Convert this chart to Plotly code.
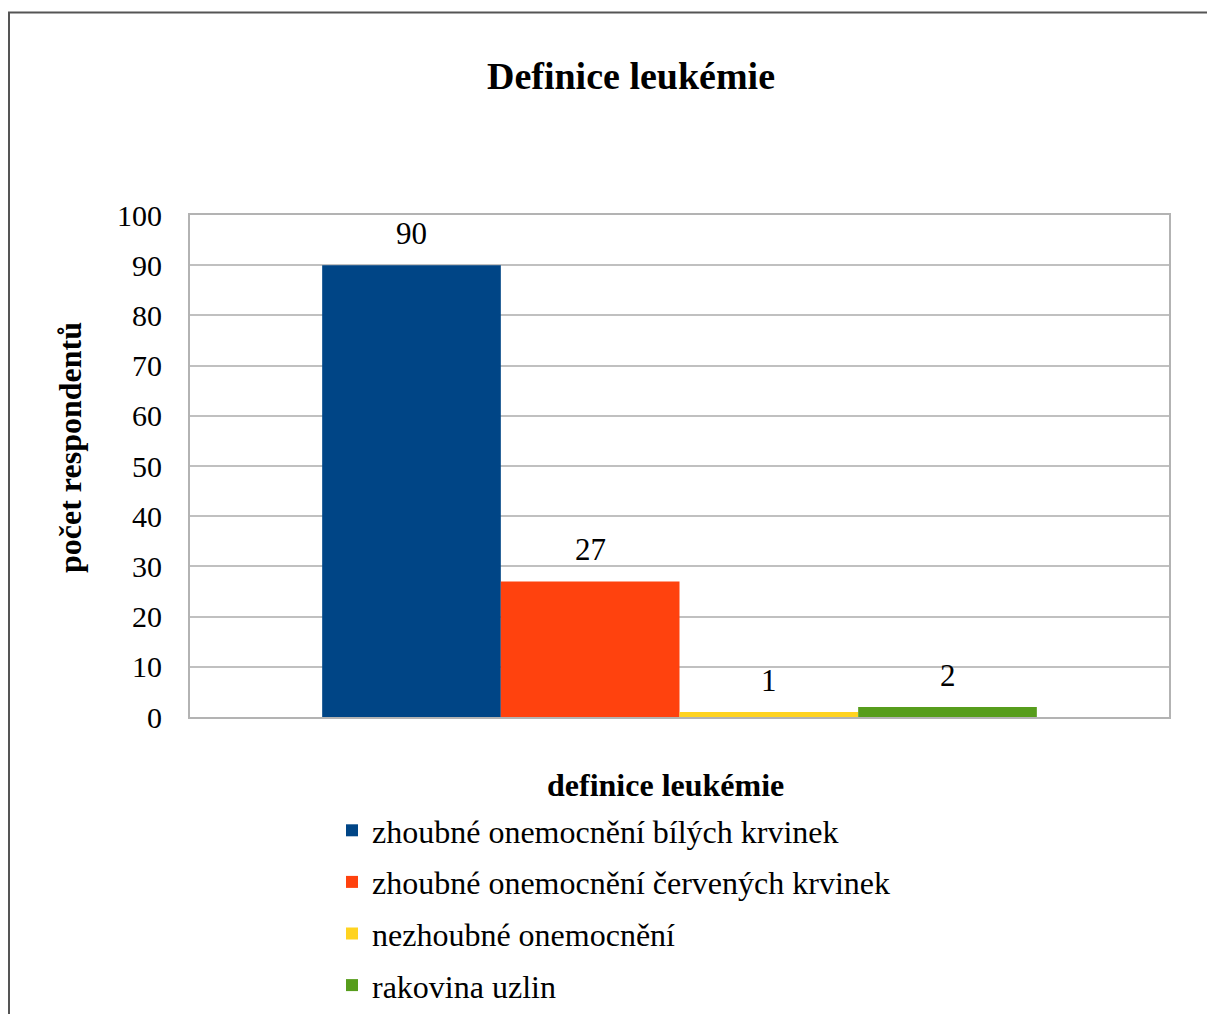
import plotly.graph_objects as go

series_names = [
    "zhoubné onemocnění bílých krvinek",
    "zhoubné onemocnění červených krvinek",
    "nezhoubné onemocnění",
    "rakovina uzlin",
]
values = [90, 27, 1, 2]
colors = ["#004586", "#ff420e", "#ffd320", "#579d1c"]
category = [0]

FONT = "Liberation Serif, Times New Roman, serif"
W, H = 1207, 1014
L, R, T, B = 190, 38, 215, 297
pw, ph = W - L - R, H - T - B

bargap = 0.27
fig = go.Figure()
for i, (name, v, c) in enumerate(zip(series_names, values, colors)):
    fig.add_trace(go.Bar(x=category, y=[v], name=name, legendgroup=f"g{i}",
                         marker=dict(color=c, line=dict(width=0))))

n = len(values)
w = (1 - bargap) / n
for i, v in enumerate(values):
    xc = -0.5 * (1 - bargap) + w * (i + 0.5)
    fig.add_annotation(x=xc, y=v, xref="x", yref="y", text=str(v), showarrow=False,
                       yanchor="bottom", yshift=12, font=dict(family=FONT, size=31, color="#000"))

def px2x(px):
    return (px - L) / pw

def py2y(py):
    return (H - B - py) / ph

# outer chart border
fig.add_shape(type="rect", xref="paper", yref="paper",
              x0=px2x(9), x1=px2x(1240), y0=py2y(1040), y1=py2y(12.5),
              line=dict(color="#555555", width=2), fillcolor="rgba(0,0,0,0)", layer="below")

fig.add_annotation(x=px2x(70), y=py2y(448), xref="paper", yref="paper", text="<b>počet respondentů</b>",
                   textangle=-90, showarrow=False, xanchor="center", yanchor="middle",
                   font=dict(family=FONT, size=32, color="#000"))
fig.add_annotation(x=px2x(665), y=py2y(785), xref="paper", yref="paper", text="<b>definice leukémie</b>",
                   showarrow=False, xanchor="center", yanchor="middle",
                   font=dict(family=FONT, size=32, color="#000"))

fig.update_layout(
    width=W, height=H,
    margin=dict(l=L, r=R, t=T, b=B, pad=0, autoexpand=False),
    paper_bgcolor="white", plot_bgcolor="white",
    barmode="group", bargap=bargap, bargroupgap=0,
    title=dict(text="<b>Definice leukémie</b>", x=631 / W, xanchor="center", y=1 - 76 / H, yanchor="middle",
               font=dict(family=FONT, size=38, color="#000")),
    showlegend=True,
    legend=dict(x=px2x(332), y=py2y(803), xanchor="left", yanchor="top", orientation="v",
                font=dict(family=FONT, size=32, color="#000"), tracegroupgap=7,
                bgcolor="rgba(0,0,0,0)"),
    font=dict(family=FONT, color="#000"),
)
fig.update_xaxes(range=[-0.5, 0.5], showticklabels=False, showgrid=False, zeroline=False,
                 showline=True, mirror=True, linecolor="#b3b3b3", linewidth=2, ticks="")
fig.update_yaxes(range=[0, 100], dtick=10, showgrid=True, gridcolor="#c0c0c0", gridwidth=1.5,
                 zeroline=False, showline=True, mirror=True, linecolor="#b3b3b3", linewidth=2,
                 ticks="", ticklabelstandoff=20, tickfont=dict(family=FONT, size=30, color="#000"))

fig.write_html("out.html")
